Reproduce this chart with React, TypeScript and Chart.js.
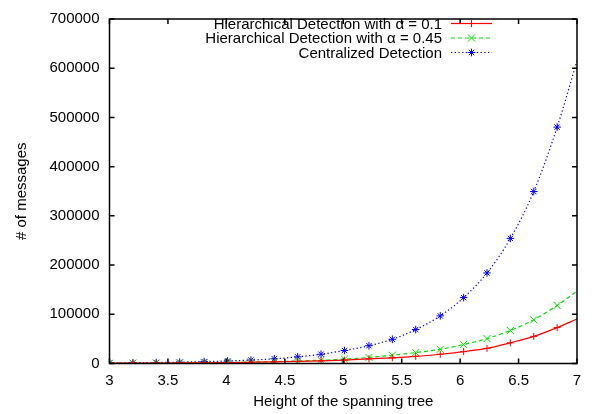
import React, { useEffect, useRef } from 'react';
import { Chart, registerables } from 'chart.js';

Chart.register(...registerables);

// ---- data ----
const heights = [3.0, 3.2, 3.4, 3.6, 3.81, 4.01, 4.21, 4.41, 4.61, 4.81, 5.01, 5.22, 5.42, 5.62, 5.83, 6.03, 6.23, 6.43, 6.63, 6.83, 7.0];
const hierarchicalAlpha01 = [540, 700, 900, 1150, 1500, 1900, 2500, 3200, 4200, 5400, 7000, 9500, 11500, 14300, 18800, 24200, 30700, 42000, 55100, 73000, 90500];
const hierarchicalAlpha045 = [600, 780, 1000, 1300, 1700, 2250, 2950, 3900, 5100, 6700, 8900, 12300, 16900, 22200, 28800, 38700, 50600, 67000, 88800, 118000, 147000];
const centralized = [1100, 1500, 2000, 2800, 3900, 5100, 7000, 9600, 13500, 18800, 26400, 36100, 49200, 69000, 96800, 133900, 184000, 254200, 349400, 480300, 615000];
const seriesLabels = [
  'Hierarchical Detection with \u03b1 = 0.1',
  'Hierarchical Detection with \u03b1 = 0.45',
  'Centralized Detection',
];
const xTitle = 'Height of the spanning tree';
const yTitle = '# of messages';

const FONT = '"Liberation Sans", Arial, Helvetica, sans-serif';

type Series = { label: string; values: number[]; color: string; dash: number[]; style: string; radius: number };
const series: Series[] = [
  { label: seriesLabels[0], values: hierarchicalAlpha01, color: '#ff0000', dash: [], style: 'cross', radius: 3.5 },
  { label: seriesLabels[1], values: hierarchicalAlpha045, color: '#00e000', dash: [4, 3], style: 'crossRot', radius: 5 },
  { label: seriesLabels[2], values: centralized, color: '#0000ff', dash: [1.3, 2.4], style: 'star', radius: 3.8 },
];

function drawMarker(ctx: CanvasRenderingContext2D, style: string, x: number, y: number, r: number) {
  ctx.beginPath();
  if (style === 'cross' || style === 'star') {
    ctx.moveTo(x - r, y); ctx.lineTo(x + r, y);
    ctx.moveTo(x, y - r); ctx.lineTo(x, y + r);
  }
  if (style === 'crossRot' || style === 'star') {
    const d = r * Math.SQRT1_2;
    ctx.moveTo(x - d, y - d); ctx.lineTo(x + d, y + d);
    ctx.moveTo(x - d, y + d); ctx.lineTo(x + d, y - d);
  }
  ctx.stroke();
}

const framePlugin = {
  id: 'gnuplotFrame',
  afterDraw(chart: any) {
    const { ctx, chartArea: a, scales } = chart;
    const tl = 5;
    ctx.save();
    ctx.strokeStyle = '#000';
    ctx.lineWidth = 1.5;
    ctx.setLineDash([]);
    ctx.beginPath();
    for (const t of scales.y.ticks) {
      const py = scales.y.getPixelForValue(t.value);
      ctx.moveTo(a.left, py); ctx.lineTo(a.left + tl, py);
      ctx.moveTo(a.right, py); ctx.lineTo(a.right - tl, py);
    }
    for (const t of scales.x.ticks) {
      const px = scales.x.getPixelForValue(t.value);
      ctx.moveTo(px, a.bottom); ctx.lineTo(px, a.bottom - tl);
      ctx.moveTo(px, a.top); ctx.lineTo(px, a.top + tl);
    }
    ctx.stroke();
    ctx.strokeRect(a.left, a.top, a.right - a.left, a.bottom - a.top);
    ctx.restore();

    // legend (gnuplot style: text right-aligned, sample to the right)
    const textRight = 442;
    const x0 = 451, x1 = 492, xm = 471.5;
    const rowY = [23.5, 38, 52.5];
    series.forEach((s, i) => {
      const y = rowY[i];
      ctx.save();
      ctx.globalAlpha = 1;
      ctx.globalCompositeOperation = 'source-over';
      ctx.font = `15px ${FONT}`;
      ctx.textAlign = 'right';
      ctx.textBaseline = 'alphabetic';
      ctx.fillStyle = '#000000';
      ctx.fillText(s.label, textRight, y + 5);
      ctx.fillStyle = s.color;
      ctx.strokeStyle = s.color;
      if (s.dash.length === 0) {
        ctx.fillRect(x0, y - 0.6, x1 - x0, 1.2);
      } else {
        ctx.lineWidth = 1.2;
        ctx.setLineDash(s.dash);
        ctx.beginPath();
        ctx.moveTo(x0, y);
        ctx.lineTo(x1, y);
        ctx.stroke();
      }
      ctx.setLineDash([]);
      ctx.lineWidth = 1;
      drawMarker(ctx, s.style, xm, y, s.radius);
      ctx.restore();
    });
  },
};

export default function App() {
  const ref = useRef<HTMLCanvasElement | null>(null);
  useEffect(() => {
    document.body.style.margin = '0';
    const canvas = ref.current;
    if (!canvas) return;
    const chart = new Chart(canvas, {
      type: 'line',
      data: {
        datasets: series.map((s) => ({
          label: s.label,
          data: heights.map((h, i) => ({ x: h, y: s.values[i] })),
          borderColor: s.color,
          backgroundColor: s.color,
          borderWidth: 1.2,
          borderDash: s.dash,
          pointStyle: s.style as any,
          pointRadius: heights.map((_, i) => (i === heights.length - 1 ? 0 : s.radius)),
          pointBorderWidth: 1,
          pointBorderColor: s.color,
          pointHoverRadius: 0,
          fill: false,
          cubicInterpolationMode: 'monotone' as const,
        })),
      },
      options: {
        animation: false,
        responsive: false,
        maintainAspectRatio: false,
        events: [],
        layout: { padding: { left: 0, top: 10.5, right: 15, bottom: 0 } },
        plugins: { legend: { display: false }, tooltip: { enabled: false } },
        scales: {
          x: {
            type: 'linear',
            min: 3,
            max: 7,
            grid: { display: false, drawTicks: false },
            border: { display: false },
            ticks: { stepSize: 0.5, color: '#000', font: { family: FONT, size: 15 }, padding: 8, maxRotation: 0, autoSkip: false, callback: (v: any) => String(v) },
            title: { display: true, text: xTitle, color: '#000', font: { family: FONT, size: 15 }, padding: { top: 0, bottom: 3.3 } },
            afterFit: (scale: any) => { scale.height = 50.5; },
          },
          y: {
            type: 'linear',
            min: 0,
            max: 700000,
            grid: { display: false, drawTicks: false },
            border: { display: false },
            ticks: { stepSize: 100000, color: '#000', font: { family: FONT, size: 15 }, padding: 10, callback: (v: any) => String(v) },
            title: { display: true, text: yTitle, color: '#000', font: { family: FONT, size: 15 }, padding: { top: 13, bottom: 0 } },
            afterFit: (scale: any) => { scale.width = 109.5; },
          },
        },
      },
      plugins: [framePlugin],
    });
    return () => chart.destroy();
  }, []);
  return <canvas ref={ref} width={592} height={414} style={{ display: 'block', width: 592, height: 414 }} />;
}
